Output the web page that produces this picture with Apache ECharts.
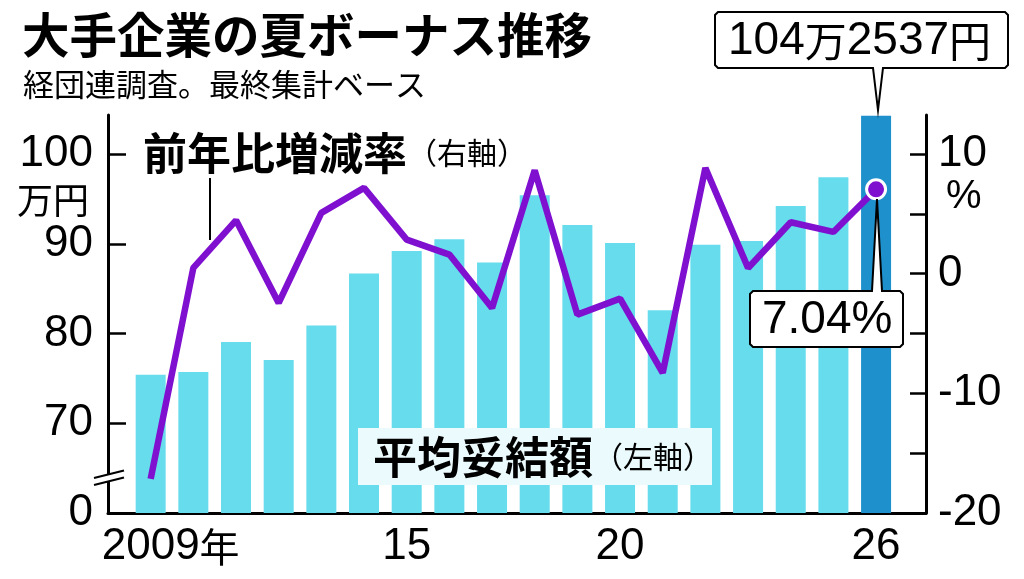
<!DOCTYPE html>
<html>
<head>
<meta charset="utf-8">
<script src="https://cdn.jsdelivr.net/npm/echarts@6/dist/echarts.min.js"></script>
<style>
html, body { margin: 0; padding: 0; background: #fff; }
#chart { width: 1024px; height: 579px; }
</style>
</head>
<body>
<div id="chart"></div>
<script>
// 年
var years = [2009, 2010, 2011, 2012, 2013, 2014, 2015, 2016, 2017,
	2018, 2019, 2020, 2021, 2022, 2023, 2024, 2025, 2026];
// 平均妥結額（万円）
var amounts = [75.4, 75.7, 79.05, 77.05, 80.9, 86.7, 89.2, 90.5, 87.9,
	95.4, 92.1, 90.1, 82.6, 89.9, 90.3, 94.2, 97.4, 104.2537];
// 前年比増減率（%）
var rates = [-17.15, 0.48, 4.45, -2.45, 5.07, 7.16, 2.84, 1.59, -2.87,
	8.63, -3.43, -2.09, -8.30, 8.83, 0.47, 4.29, 3.48, 7.04];
// 目盛り
var xLabelYears = [2009, 2015, 2020, 2026];
var leftLabels = [60, 70, 80, 90, 100];
var leftTicks = [70, 80, 90, 100];
var rightLabels = [-20, -10, 0, 10];
var rightTicks = [-15, -10, -5, 0, 5, 10];

var LIGHT = '#66dcec';
var DARK = '#1e91cd';
var PURPLE = '#8010d0';
var NUM = '"Liberation Sans", Arial, sans-serif';
var JP = '"Noto Sans CJK JP", sans-serif';

var barData = [];
var lineData = [];
for (var i = 0; i < years.length; i++) {
	var last = i === years.length - 1;
	barData.push({
		value: [years[i], amounts[i]],
		itemStyle: { color: last ? DARK : LIGHT }
	});
	var p = { value: [years[i], rates[i]] };
	if (last) {
		p.symbol = 'circle';
		p.symbolSize = 19;
		p.itemStyle = { color: PURPLE, borderColor: '#fff', borderWidth: 3 };
	}
	lineData.push(p);
}

// 吹き出しの枠（角を少し落とした多角形）
function balloon(x1, y1, x2, y2, px, tipY, up) {
	var c = 3;
	var pts = [[x1 + c, y1]];
	if (up) pts.push([px - 5, y1], [px, tipY], [px + 5, y1]);
	pts.push([x2 - c, y1], [x2, y1 + c], [x2, y2 - c], [x2 - c, y2]);
	if (!up) pts.push([px + 5, y2], [px, tipY], [px - 5, y2]);
	pts.push([x1 + c, y2], [x1, y2 - c], [x1, y1 + c]);
	return pts;
}

var myChart = echarts.init(document.getElementById('chart'));

var option = {
	animation: false,
	backgroundColor: '#fff',
	grid: { left: 108, right: 98, top: 115, bottom: 66, containLabel: false, outerBoundsMode: 'none' },
	xAxis: {
		type: 'value',
		min: 2008,
		max: 2027.17,
		interval: 1,
		splitLine: { show: false },
		axisLine: { show: true, onZero: false, lineStyle: { color: '#000', width: 3 } },
		axisTick: { show: false },
		axisLabel: {
			customValues: xLabelYears,
			margin: 12,
			color: '#000',
			fontFamily: NUM,
			fontSize: 44,
			formatter: function (v) {
				if (v === 2009) return '{y|2009}{n|年}';
				return String(v).slice(2);
			},
			rich: {
				y: { fontFamily: NUM, fontSize: 44, color: '#000', padding: [0, 0, 0, 40] },
				n: { fontFamily: JP, fontSize: 40, color: '#000' }
			}
		}
	},
	yAxis: [{
		type: 'value',
		min: 60,
		max: 104.35,
		interval: 10,
		splitLine: { show: false },
		axisLine: { show: true, lineStyle: { color: '#000', width: 3 } },
		axisTick: { show: true, inside: true, length: 18, customValues: leftTicks, lineStyle: { color: '#000', width: 2.5 } },
		axisLabel: {
			customValues: leftLabels,
			margin: 15,
			color: '#000',
			fontFamily: NUM,
			fontSize: 44,
			formatter: function (v) { return v === 60 ? '0' : String(v); }
		}
	}, {
		type: 'value',
		position: 'right',
		min: -20,
		max: 13.25,
		interval: 5,
		splitLine: { show: false },
		axisLine: { show: true, onZero: false, lineStyle: { color: '#000', width: 3 } },
		axisTick: { show: true, inside: true, length: 16, customValues: rightTicks, lineStyle: { color: '#000', width: 2.5 } },
		axisLabel: {
			customValues: rightLabels,
			margin: 12,
			color: '#000',
			fontFamily: NUM,
			fontSize: 44
		}
	}],
	series: [{
		name: '平均妥結額',
		type: 'bar',
		barWidth: 30,
		data: barData,
		z: 2
	}, {
		name: '前年比増減率',
		type: 'line',
		yAxisIndex: 1,
		symbol: 'none',
		data: lineData,
		lineStyle: { color: PURPLE, width: 6.5 },
		itemStyle: { color: PURPLE },
		z: 5
	}],
	graphic: [
		// タイトル
		{ type: 'text', z: 100, style: { x: 22, y: 35, text: '大手企業の夏ボーナス推移', font: 'bold 47.5px ' + JP, fill: '#000', textVerticalAlign: 'middle' } },
		{ type: 'text', z: 100, style: { x: 23, y: 84, text: '経団連調査。最終集計ベース', font: '31px ' + JP, fill: '#000', textVerticalAlign: 'middle' } },
		// 単位
		{ type: 'text', z: 100, style: { x: 17, y: 200, text: '万円', font: '36px ' + JP, fill: '#000', textVerticalAlign: 'middle' } },
		{ type: 'text', z: 100, style: { x: 946, y: 197, text: '%', font: '40px ' + NUM, fill: '#000', textVerticalAlign: 'middle' } },
		// 前年比増減率ラベル
		{ type: 'line', z: 100, shape: { x1: 210, y1: 178, x2: 210, y2: 240 }, style: { stroke: '#000', lineWidth: 2 } },
		{ type: 'text', z: 100, style: { x: 143, y: 153, text: '{b|前年比増減率}{s|（右軸）}', fill: '#000', textVerticalAlign: 'middle',
			rich: { b: { font: 'bold 44px ' + JP, fill: '#000' }, s: { font: '30px ' + JP, fill: '#000' } } } },
		// 平均妥結額ラベル
		{ type: 'rect', z: 100, shape: { x: 358, y: 428, width: 354, height: 57 }, style: { fill: '#ebfafc' } },
		{ type: 'text', z: 101, style: { x: 373, y: 457, text: '{b|平均妥結額}{s|（左軸）}', fill: '#000', textVerticalAlign: 'middle',
			rich: { b: { font: 'bold 44px ' + JP, fill: '#000' }, s: { font: '30px ' + JP, fill: '#000' } } } },
		// 波線（軸の省略）
		{ type: 'polygon', z: 100, shape: { points: [[95, 478], [123, 471], [123, 478], [94, 485]] }, style: { fill: '#fff' } },
		{ type: 'line', z: 101, shape: { x1: 94, y1: 478, x2: 124, y2: 470.5 }, style: { stroke: '#000', lineWidth: 2 } },
		{ type: 'line', z: 101, shape: { x1: 94, y1: 485, x2: 124, y2: 477.5 }, style: { stroke: '#000', lineWidth: 2 } },
		// 104万2537円 吹き出し
		{ type: 'polygon', z: 100, shape: { points: balloon(715, 12, 1008, 68, 878, 110, false) },
			style: { fill: '#fff', stroke: '#000', lineWidth: 2 } },
		{ type: 'text', z: 101, style: { x: 728, y: 41, text: '{n|104}{j|万}{n|2537}{j|円}', fill: '#000', textVerticalAlign: 'middle',
			rich: { n: { font: '46px ' + NUM, fill: '#000' }, j: { font: '42px ' + JP, fill: '#000' } } } },
		// 7.04% 吹き出し
		{ type: 'polygon', z: 100, shape: { points: balloon(750, 291, 903, 347, 877, 199, true) },
			style: { fill: '#fff', stroke: '#000', lineWidth: 2 } },
		{ type: 'text', z: 101, style: { x: 762, y: 320, text: '7.04%', font: '46px ' + NUM, fill: '#000', textVerticalAlign: 'middle' } }
	]
};

myChart.setOption(option);
</script>
</body>
</html>
